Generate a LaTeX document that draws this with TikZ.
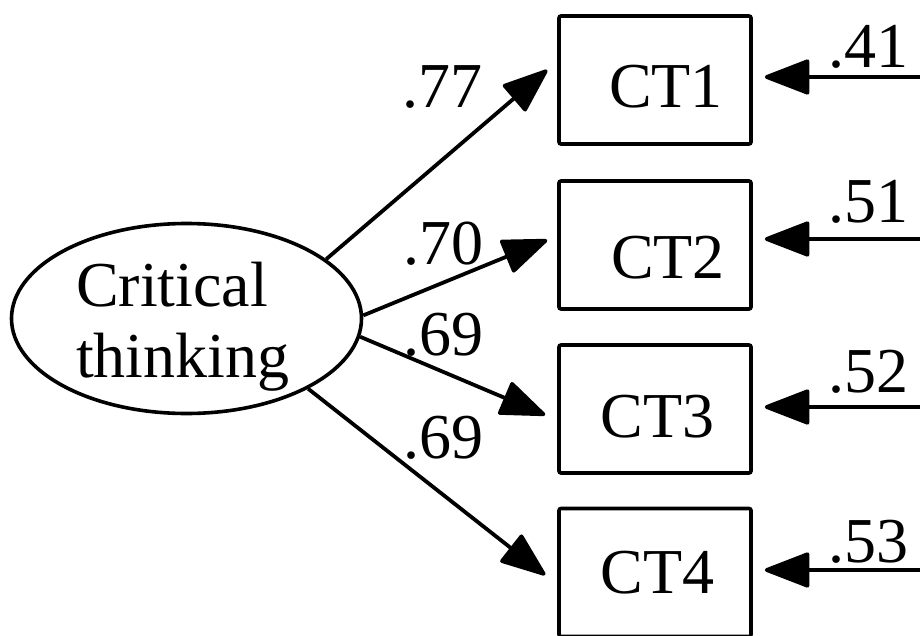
\documentclass[tikz,border=0pt]{standalone}
\usepackage{fontspec}
\setmainfont{Liberation Serif}
\usetikzlibrary{arrows.meta,shapes.geometric}
\begin{document}
\begin{tikzpicture}[x=1pt,y=-1pt,
  every node/.style={font=\fontsize{64}{71}\selectfont},
  obs/.style={draw,line width=3.6pt,minimum width=192pt,minimum height=128pt,inner sep=0pt,rounded corners=2pt,text depth=0pt},
  lat/.style={draw,ellipse,line width=3.6pt,minimum width=350pt,minimum height=190pt,inner sep=0pt},
  arr/.style={line width=3.8pt,-{Triangle[length=48pt,width=36pt,round]}},
  coef/.style={anchor=base,inner sep=0pt}]
\clip (0,0) rectangle (920,636);
\fill[white] (0,0) rectangle (920,636);

% latent variable
\node[lat] (lv) at (186.5,318.5) {};
\node[anchor=north west,inner sep=0pt,align=left] (lvt) at (76,262) {Critical\\thinking};

% indicators
\node[obs,text height=56pt] (ct1) at (655,80) {\hspace*{22pt}CT1};
\node[obs,text height=66pt] (ct2) at (655,245) {\hspace*{26pt}CT2};
\node[obs,text height=56pt] (ct3) at (655,409) {\hspace*{5pt}CT3};
\node[obs,text height=42pt] (ct4) at (655,572.5) {\hspace*{5pt}CT4};

% loadings
\draw[arr] (lv.23) -- ([shift={(-10,-10)}]ct1.west);
\draw[arr] (lv.1.8) -- ([shift={(-10,-5)}]ct2.west);
\draw[arr] (lv.-6.9) -- ([shift={(-12,6)}]ct3.west);
\draw[arr] (lv.-30.4) -- ([shift={(-12,2.5)}]ct4.west);

\node[coef] (l1) at (442,108) {.77};
\node[coef] (l2) at (443,264) {.70};
\node[coef] (l3) at (443,355) {.69};
\node[coef] (l4) at (443,458) {.69};

% error terms
\coordinate (e1) at (930,77);
\coordinate (e2) at (930,239);
\coordinate (e3) at (930,407);
\coordinate (e4) at (930,570);
\draw[arr] (e1) -- ([xshift=12pt,yshift=3pt]ct1.east);
\draw[arr] (e2) -- ([xshift=12pt,yshift=6pt]ct2.east);
\draw[arr] (e3) -- ([xshift=12pt,yshift=2pt]ct3.east);
\draw[arr] (e4) -- ([xshift=12pt,yshift=2.5pt]ct4.east);

\node[coef] (r1) at (868,68) {.41};
\node[coef] (r2) at (868,223) {.51};
\node[coef] (r3) at (868,392) {.52};
\node[coef] (r4) at (868,562) {.53};
\end{tikzpicture}
\end{document}
